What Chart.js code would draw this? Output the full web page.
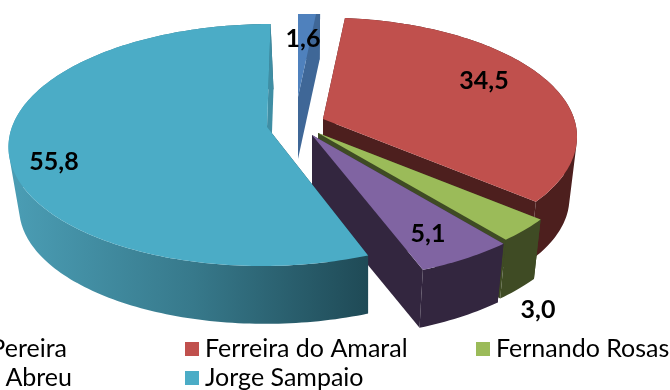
<!DOCTYPE html>
<html><head><meta charset="utf-8">
<style>html,body{margin:0;padding:0;background:#fff;overflow:hidden}canvas{display:block}</style>
<script src="https://cdn.jsdelivr.net/npm/chart.js@4"></script></head>
<body><canvas id="c" width="670" height="390"></canvas>
<script>
const categories = ["Garcia Pereira","Ferreira do Amaral","Fernando Rosas","António Abreu","Jorge Sampaio"];
const shares = [1.6,34.5,3.0,5.1,55.8];
const topColors = ["#4F81BD","#C0504D","#9BBB59","#8064A2","#4BACC6"];
const sideColors = ["#3F6797","#4D1F1E","#3F4B24","#33263F","#1F4A56"];
const apexes = [[298,97],[323,119],[318,133],[312,135],[267,127]];
const radiusScale = [1,0.985,1.03,1.05,1];
const shears = [0,0,0,0,-0.035];
const depthShift = [0,0,0,0,3];
const labelSpots = [[303,39],[484,81],[538,310],[428,234],[54,162]];
const legendSpots = [[67,349,-1],[185,349,1],[476,349,1],[72,378,-1],[185,378,1]];

const P=0.149,Q=118.3,R=255,DEPTH=62,SHRINK=0.97;
function proj(i,a){const X=Math.sin(a),Y=Math.cos(a),w=1+P*Y,k=radiusScale[i],py=-Q*Y/w*k;return [R*X/w*k+shears[i]*py,py];}
function topPt(i,a){const p=proj(i,a),ap=apexes[i];return [ap[0]+p[0],ap[1]+p[1]];}
function botPt(i,a){const p=proj(i,a),ap=apexes[i];return [ap[0]+depthShift[i]+SHRINK*p[0],ap[1]+DEPTH+SHRINK*p[1]];}
function poly(ctx,pts,fill){ctx.beginPath();pts.forEach((p,i)=>i?ctx.lineTo(p[0],p[1]):ctx.moveTo(p[0],p[1]));ctx.closePath();ctx.fillStyle=fill;ctx.fill();}
function sweep(s,e){const n=Math.max(4,Math.ceil((e-s)/0.02)),o=[];for(let i=0;i<=n;i++)o.push(s+(e-s)*i/n);return o;}
function area(q){let t=0;q.forEach((p,i)=>{const r=q[(i+1)%q.length];t+=p[0]*r[1]-r[0]*p[1];});return t;}

const pie3d={id:'pie3d',
 beforeDatasetsDraw(chart){
  const ctx=chart.ctx,arcs=chart.getDatasetMeta(0).data;
  ctx.save();ctx.beginPath();ctx.rect(0,14,670,376);ctx.clip();
  arcs.forEach((arc,i)=>{
   const s=arc.startAngle+Math.PI/2,e=arc.endAngle+Math.PI/2,ap=apexes[i];
   const angs=sweep(s,e),side=sideColors[i];
   const apB=[ap[0]+depthShift[i],ap[1]+DEPTH];
   poly(ctx,[ap,topPt(i,s),botPt(i,s),apB],side);
   let wall=side;
   if(i===4){const g=ctx.createLinearGradient(18,0,368,0);g.addColorStop(0,"#4A9CB3");g.addColorStop(0.5,"#37798B");g.addColorStop(1,"#1F4A56");wall=g;}
   ctx.beginPath();
   for(let k=0;k<angs.length-1;k++){
    let q=[topPt(i,angs[k]),topPt(i,angs[k+1]),botPt(i,angs[k+1]),botPt(i,angs[k])];
    if(area(q)<0)q.reverse();
    q.forEach((p,j)=>j?ctx.lineTo(p[0],p[1]):ctx.moveTo(p[0],p[1]));
    ctx.closePath();
   }
   ctx.fillStyle=wall;ctx.fill('nonzero');
   poly(ctx,[ap,topPt(i,e),botPt(i,e),apB],i===4?"#3F8EA4":side);
   poly(ctx,[ap].concat(angs.map(a=>topPt(i,a))),topColors[i]);
  });
  ctx.restore();
  ctx.fillStyle="#000";ctx.textBaseline="middle";
  ctx.font="bold 25px Lato, Carlito, sans-serif";ctx.textAlign="center";
  shares.forEach((v,i)=>ctx.fillText(v.toFixed(1).replace('.',','),labelSpots[i][0],labelSpots[i][1]));
  ctx.font="25px Lato, Carlito, sans-serif";
  categories.forEach((t,i)=>{
   const sp=legendSpots[i];
   if(sp[2]>0){
    ctx.fillStyle=topColors[i];ctx.fillRect(sp[0],sp[1]-7,14,14);
    ctx.fillStyle="#000";ctx.textAlign="left";ctx.fillText(t,sp[0]+20,sp[1]);
   }else{
    ctx.fillStyle="#000";ctx.textAlign="right";ctx.fillText(t,sp[0],sp[1]);
   }
  });
  return false;
 }};
new Chart(document.getElementById('c'),{type:'pie',
 data:{labels:categories,datasets:[{data:shares,backgroundColor:topColors}]},
 options:{responsive:false,animation:false,plugins:{legend:{display:false},tooltip:{enabled:false}}},
 plugins:[pie3d]});
</script></body></html>
